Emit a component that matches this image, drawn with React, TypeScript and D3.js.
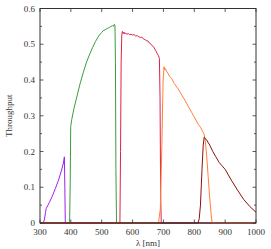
import React from "react";
import * as d3 from "d3";

const uWave = [300, 310, 314, 318, 320, 330, 340, 350, 360, 370, 376, 379, 380.5, 382, 1000];
const uThru = [0, 0, 0.008, 0.03, 0.04, 0.057, 0.075, 0.097, 0.12, 0.148, 0.168, 0.185, 0.1, 0, 0];

const gWave = [300, 396, 398, 399.5, 403, 410, 420, 430, 440, 450, 460, 470, 480, 490, 500, 505, 510, 515, 520, 525, 530, 535, 538, 541, 543, 544.5, 546, 548, 1000];
const gThru = [0, 0, 0.12, 0.27, 0.29, 0.32, 0.355, 0.39, 0.42, 0.448, 0.47, 0.49, 0.508, 0.523, 0.533, 0.538, 0.54, 0.543, 0.545, 0.547, 0.55, 0.552, 0.55, 0.556, 0.552, 0.45, 0.15, 0, 0];

const rWave = [300, 559, 561, 563, 565, 567, 570, 572, 575, 578, 582, 586, 590, 595, 600, 605, 610, 615, 620, 625, 630, 635, 640, 645, 650, 655, 660, 665, 670, 675, 680, 684, 687, 689, 691, 693, 1000];
const rThru = [0, 0, 0.2, 0.45, 0.525, 0.536, 0.53, 0.534, 0.529, 0.531, 0.528, 0.53, 0.527, 0.528, 0.526, 0.527, 0.523, 0.524, 0.521, 0.519, 0.52, 0.515, 0.513, 0.51, 0.509, 0.503, 0.5, 0.495, 0.49, 0.482, 0.474, 0.468, 0.46, 0.35, 0.08, 0, 0];

const iWave = [300, 684, 690, 695, 699, 702, 704, 706, 710, 715, 720, 727, 735, 748, 760, 770, 780, 791, 800, 813, 820, 826, 831, 835, 840, 845, 850, 855, 858, 1000];
const iThru = [0, 0, 0.04, 0.22, 0.4, 0.437, 0.428, 0.432, 0.425, 0.418, 0.41, 0.404, 0.39, 0.375, 0.357, 0.343, 0.327, 0.31, 0.296, 0.276, 0.268, 0.258, 0.25, 0.235, 0.19, 0.13, 0.07, 0.02, 0, 0];

const zWave = [300, 812, 816, 820, 825, 829, 832, 840, 850, 860, 870, 880, 890, 900, 920, 940, 960, 980, 1000];
const zThru = [0, 0, 0.012, 0.05, 0.15, 0.218, 0.24, 0.232, 0.218, 0.2, 0.185, 0.17, 0.16, 0.15, 0.12, 0.092, 0.066, 0.046, 0.03];

const xTicks = [300, 400, 500, 600, 700, 800, 900, 1000];
const yTicks = [0, 0.1, 0.2, 0.3, 0.4, 0.5, 0.6];
const yMinor = [0.05, 0.15, 0.25, 0.35, 0.45, 0.55];

const series = [
  { w: uWave, t: uThru, color: "#a020f0" },
  { w: gWave, t: gThru, color: "#3c9c3c" },
  { w: rWave, t: rThru, color: "#e0204c" },
  { w: iWave, t: iThru, color: "#ff7f3a" },
  { w: zWave, t: zThru, color: "#8b1010" },
];

export default function App() {
  const L = 40, R = 256, T = 8.5, B = 223;
  const x = d3.scaleLinear().domain([300, 1000]).range([L, R]);
  const y = d3.scaleLinear().domain([0, 0.6]).range([B, T]);
  const line = d3.line<[number, number]>().x((d) => x(d[0])).y((d) => y(d[1]));
  const font = "'Liberation Serif', 'DejaVu Serif', serif";
  const axisColor = "#333";
  const textColor = "#333";
  return (
    <svg width={271} height={249} style={{ position: "absolute", left: 0, top: 0, background: "#fff" }}>
      {series.map((s, i) => (
        <path
          key={i}
          d={line(s.w.map((w, j) => [w, s.t[j]] as [number, number])) || ""}
          fill="none"
          stroke={s.color}
          strokeWidth={1}
        />
      ))}
      <rect x={L} y={T} width={R - L} height={B - T} fill="none" stroke={axisColor} strokeWidth={1} />
      {xTicks.map((v) => (
        <g key={"x" + v}>
          <line x1={x(v)} x2={x(v)} y1={B} y2={B - 3.5} stroke={axisColor} strokeWidth={0.8} />
          <line x1={x(v)} x2={x(v)} y1={T} y2={T + 3.5} stroke={axisColor} strokeWidth={0.8} />
          <text x={x(v)} y={234.5} fontSize={9} fontFamily={font} fill={textColor} textAnchor="middle">
            {v}
          </text>
        </g>
      ))}
      {yTicks.map((v) => (
        <g key={"y" + v}>
          <line x1={L} x2={L + 3.5} y1={y(v)} y2={y(v)} stroke={axisColor} strokeWidth={0.8} />
          <line x1={R} x2={R - 3.5} y1={y(v)} y2={y(v)} stroke={axisColor} strokeWidth={0.8} />
          <text x={35} y={y(v) + 3} fontSize={9} fontFamily={font} fill={textColor} textAnchor="end">
            {v === 0 ? "0" : v.toFixed(1)}
          </text>
        </g>
      ))}
      {yMinor.map((v) => (
        <g key={"m" + v}>
          <line x1={L} x2={L + 2} y1={y(v)} y2={y(v)} stroke={axisColor} strokeWidth={0.8} />
          <line x1={R} x2={R - 2} y1={y(v)} y2={y(v)} stroke={axisColor} strokeWidth={0.8} />
        </g>
      ))}
      <text
        transform={`translate(11.5, ${(T + B) / 2}) rotate(-90)`}
        fontSize={9}
        fontFamily={font}
        fill={textColor}
        textAnchor="middle"
      >
        Throughput
      </text>
      <text x={(L + R) / 2} y={246} fontSize={9} fontFamily={font} fill={textColor} textAnchor="middle">
        λ [nm]
      </text>
    </svg>
  );
}
